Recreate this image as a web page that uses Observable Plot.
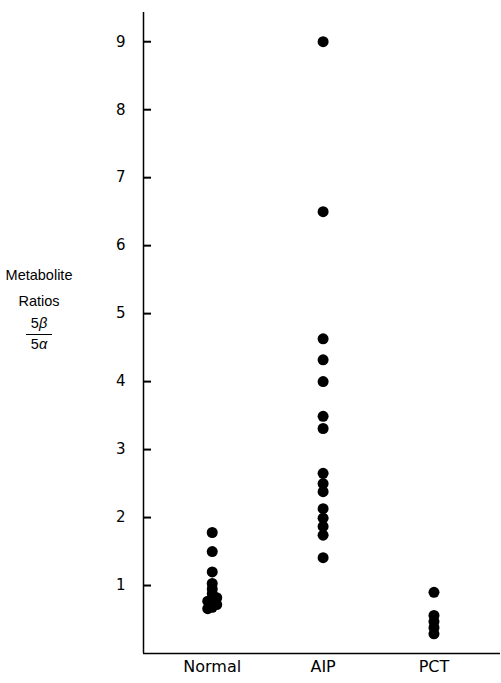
<!DOCTYPE html>
<html><head><meta charset="utf-8">
<script src="https://cdn.jsdelivr.net/npm/d3@7"></script>
<script src="https://cdn.jsdelivr.net/npm/@observablehq/plot@0.6"></script>
<style>
body{margin:0;background:#fff;}
#wrap{position:relative;width:501px;height:683px;font-family:"Liberation Sans",Arial,sans-serif;color:#000;}
#wrap svg{display:block;}
#ylab{position:absolute;left:0;top:262px;width:78px;text-align:center;font-size:14.5px;line-height:26px;}
#ylab .frac{display:inline-block;line-height:18px;}
#ylab .num{border-bottom:1.5px solid #000;padding:0 5px 2px 5px;}
</style></head>
<body><div id="wrap"><div id="ylab">Metabolite<br>Ratios<br><span class="frac"><div class="num">5<i>β</i></div><div>5<i>α</i></div></span></div></div>
<script>
const categories = ["Normal", "AIP", "PCT"];
const normalValues = [1.78, 1.50, 1.20, 1.03, 0.95, 0.88, 0.82, 0.77, 0.77, 0.72, 0.68, 0.66];
const aipValues = [9.0, 6.5, 4.63, 4.32, 4.0, 3.49, 3.31, 2.65, 2.50, 2.38, 2.13, 1.99, 1.87, 1.74, 1.41];
const pctValues = [0.9, 0.56, 0.47, 0.38, 0.29];
const yTicks = [1, 2, 3, 4, 5, 6, 7, 8, 9];

const series = [normalValues, aipValues, pctValues];
const data = series.flatMap((vals, i) => vals.map(v => ({ci: i, cat: categories[i], v, xp: i})));

const xDomain = [-0.62, 2.6];
const yDomain = [0, 9.43];
const font = '"DejaVu Sans", "Liberation Sans", sans-serif';
const tickLen = 8; // px
let xUnit = 110.9;

function makeChart() {
  const t0 = xDomain[0], t1 = xDomain[0] + tickLen / xUnit;
  return Plot.plot({
    width: 501, height: 683,
    marginLeft: 143, marginRight: 1, marginTop: 12, marginBottom: 30,
    style: {fontFamily: font, fontSize: "15px"},
    x: {domain: xDomain},
    y: {domain: yDomain},
    marks: [
      Plot.ruleY([yDomain[0]], {stroke: "#000", strokeWidth: 1.5}),
      Plot.ruleX([xDomain[0]], {stroke: "#000", strokeWidth: 1.5}),
      Plot.ruleY(yTicks, {x1: t0, x2: t1, stroke: "#000", strokeWidth: 2}),
      Plot.axisY({ticks: yTicks, tickSize: 0, tickPadding: 18, label: null}),
      Plot.axisX({ticks: [0, 1, 2], tickFormat: i => categories[i], tickSize: 0, tickPadding: 7, label: null, fontSize: 16}),
      Plot.dot(data, {x: "xp", y: "v", r: 5.5, fill: "#000", stroke: "none"})
    ]
  });
}

// first pass: read the library's scales, then nudge touching dots sideways (a small dodge)
const probe = makeChart();
const ys = probe.scale("y"), xs = probe.scale("x");
xUnit = xs.apply(1) - xs.apply(0);
const minDist = 4.5, step = 4.5;
const placed = [];
for (const d of [...data].sort((a, b) => b.v - a.v)) {
  const py = ys.apply(d.v);
  for (let k = 0; k < 20; k++) {
    const off = (k % 2 ? 1 : -1) * Math.ceil(k / 2) * step;
    const ok = placed.every(p => p.ci !== d.ci || Math.hypot(p.off - off, p.py - py) >= minDist);
    if (ok) { placed.push({ci: d.ci, off, py}); d.xp = d.ci + off / xUnit; break; }
  }
}

const chart = makeChart();
document.getElementById("wrap").prepend(chart);
</script>
</body></html>
